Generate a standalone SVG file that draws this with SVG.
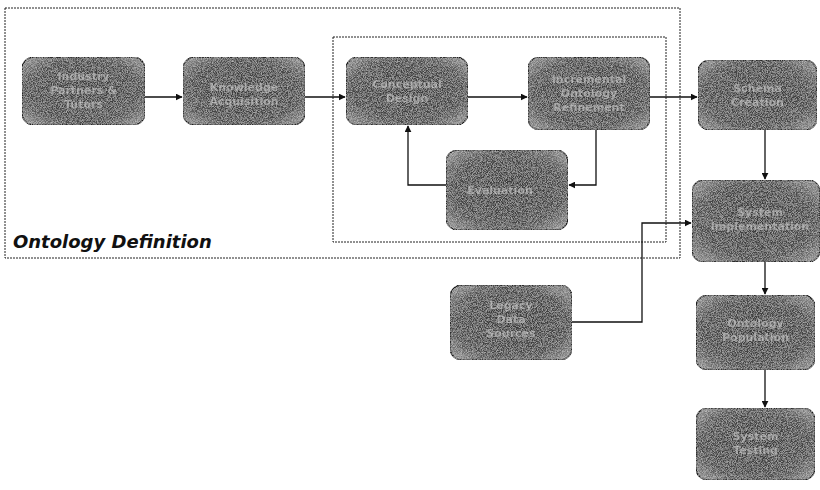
<svg xmlns="http://www.w3.org/2000/svg" width="820" height="490" viewBox="0 0 820 490">
<defs>
<style>
.box{fill:url(#g);stroke:#1a1a1a;stroke-width:1.5}
.t{font-family:"DejaVu Sans",Verdana,sans-serif;font-weight:bold;font-size:11px;fill:#9a9a9a;text-anchor:middle}
.c{fill:none;stroke:#111;stroke-width:1.3}
.frame{fill:none;stroke:#222;stroke-width:1;stroke-dasharray:2 1}
.lbl{font-family:"DejaVu Sans",Verdana,sans-serif;font-weight:bold;font-style:italic;font-size:18px;fill:#111}
</style>
<radialGradient id="g" cx="50%" cy="50%" r="65%">
<stop offset="0" stop-color="#363636"/>
<stop offset="0.7" stop-color="#474747"/>
<stop offset="1" stop-color="#8a8a8a"/>
</radialGradient>
<filter id="grain" x="0" y="0" width="100%" height="100%">
<feTurbulence type="fractalNoise" baseFrequency="1.2" numOctaves="1" seed="3" result="n"/>
<feColorMatrix in="n" type="matrix" values="0 0 0 0 0.8  0 0 0 0 0.8  0 0 0 0 0.8  0 0 0 1.2 -0.45" result="d"/>
<feComposite in="d" in2="SourceGraphic" operator="in" result="dd"/>
<feMerge><feMergeNode in="SourceGraphic"/><feMergeNode in="dd"/></feMerge>
</filter>
<marker id="a" viewBox="0 0 10 10" refX="9" refY="5" markerWidth="7" markerHeight="7" orient="auto" markerUnits="userSpaceOnUse">
<path d="M0,0 L10,5 L0,10 z" fill="#111"/>
</marker>
</defs>
<rect width="820" height="490" fill="#fff"/>
<rect class="frame" x="5" y="8" width="675" height="250"/>
<rect class="frame" x="333" y="37" width="333" height="205"/>
<text class="lbl" x="13" y="248">Ontology Definition</text>

<g id="connectors">
<path class="c" d="M145,97 H182" marker-end="url(#a)"/>
<path class="c" d="M305,97 H345" marker-end="url(#a)"/>
<path class="c" d="M468,97 H527" marker-end="url(#a)"/>
<path class="c" d="M650,97 H697" marker-end="url(#a)"/>
<path class="c" d="M596,130 V185 H569" marker-end="url(#a)"/>
<path class="c" d="M446,185 H408 V126" marker-end="url(#a)"/>
<path class="c" d="M765,130 V179" marker-end="url(#a)"/>
<path class="c" d="M765,262 V294" marker-end="url(#a)"/>
<path class="c" d="M765,370 V407" marker-end="url(#a)"/>
<path class="c" d="M572,322 H642 V223 H691" marker-end="url(#a)"/>
</g>

<g id="n1" filter="url(#grain)"><rect class="box" x="22" y="57" width="123" height="68" rx="12"/>
<text class="t" x="83.5" y="80">Industry</text><text class="t" x="83.5" y="94">Partners &amp;</text><text class="t" x="83.5" y="108">Tutors</text></g>
<g id="n2" filter="url(#grain)"><rect class="box" x="183" y="57" width="122" height="68" rx="12"/>
<text class="t" x="244" y="91">Knowledge</text><text class="t" x="244" y="105">Acquisition</text></g>
<g id="n3" filter="url(#grain)"><rect class="box" x="346" y="57" width="122" height="68" rx="12"/>
<text class="t" x="407" y="88">Conceptual</text><text class="t" x="407" y="102">Design</text></g>
<g id="n4" filter="url(#grain)"><rect class="box" x="528" y="57" width="122" height="73" rx="12"/>
<text class="t" x="589" y="83">Incremental</text><text class="t" x="589" y="97">Ontology</text><text class="t" x="589" y="111">Refinement</text></g>
<g id="n5" filter="url(#grain)"><rect class="box" x="698" y="60" width="119" height="70" rx="12"/>
<text class="t" x="757.5" y="92">Schema</text><text class="t" x="757.5" y="106">Creation</text></g>
<g id="n6" filter="url(#grain)"><rect class="box" x="446" y="150" width="122" height="80" rx="12"/>
<text class="t" x="500" y="194">Evaluation</text></g>
<g id="n7" filter="url(#grain)"><rect class="box" x="692" y="180" width="128" height="82" rx="12"/>
<text class="t" x="760" y="216">System</text><text class="t" x="760" y="230">Implementation</text></g>
<g id="n8" filter="url(#grain)"><rect class="box" x="450" y="285" width="122" height="75" rx="12"/>
<text class="t" x="511" y="309">Legacy</text><text class="t" x="511" y="323">Data</text><text class="t" x="511" y="337">Sources</text></g>
<g id="n9" filter="url(#grain)"><rect class="box" x="696" y="295" width="119" height="75" rx="12"/>
<text class="t" x="755.5" y="327">Ontology</text><text class="t" x="755.5" y="341">Population</text></g>
<g id="n10" filter="url(#grain)"><rect class="box" x="696" y="408" width="119" height="72" rx="12"/>
<text class="t" x="755.5" y="440">System</text><text class="t" x="755.5" y="454">Testing</text></g>
</svg>
